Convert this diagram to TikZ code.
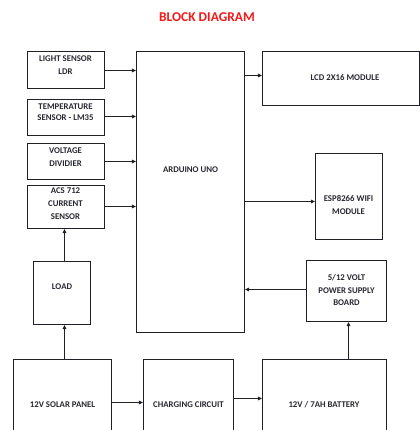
\documentclass[tikz,border=0pt]{standalone}
\usepackage{fontspec}
\setmainfont{Carlito}
\usetikzlibrary{arrows.meta}
\definecolor{titlered}{RGB}{245,25,25}
\definecolor{ink}{RGB}{40,40,50}
\begin{document}
\begin{tikzpicture}[x=1bp,y=-1bp,
  txt/.style={font=\fontsize{8.8}{12.3}\selectfont\bfseries,align=center,inner sep=0pt,text=ink},
  blk/.style={draw=ink!80!black,line width=1bp,rectangle,inner sep=0pt},
  conn/.style={draw=ink!80!black,line width=1bp,-{Triangle[length=4bp,width=3.6bp]}}]
\useasboundingbox (0,0) rectangle (420,430);
\clip (0,0) rectangle (420,430);
\fill[white] (0,0) rectangle (420,430);
\node[font=\fontsize{13.5}{15}\selectfont\bfseries,text=titlered] (title) at (207,17) {BLOCK DIAGRAM};
\node[blk,minimum width=77bp,minimum height=37bp] (light) at (66,70) {};
\node[txt] (lightlabel) at (65.5,65) {LIGHT SENSOR\\LDR};
\node[blk,minimum width=77bp,minimum height=36bp] (temp) at (66,117.5) {};
\node[txt,font=\fontsize{8.8}{10.5}\selectfont\bfseries] (templabel) at (65.5,112) {TEMPERATURE\\SENSOR - LM35};
\node[blk,minimum width=77bp,minimum height=36bp] (volt) at (66,161.5) {};
\node[txt] (voltlabel) at (65.5,157) {VOLTAGE\\DIVIDIER};
\node[blk,minimum width=77bp,minimum height=43bp] (acs) at (66,207) {};
\node[txt,font=\fontsize{8.8}{13}\selectfont\bfseries] (acslabel) at (65.5,204) {ACS 712\\CURRENT\\SENSOR};
\node[blk,minimum width=57bp,minimum height=63bp] (load) at (62,293) {};
\node[txt] (loadlabel) at (62,287) {LOAD};
\node[blk,minimum width=108bp,minimum height=281bp] (ard) at (190.5,192) {};
\node[txt] (ardlabel) at (190.5,170) {ARDUINO UNO};
\node[blk,minimum width=157bp,minimum height=54bp] (lcd) at (341,78.5) {};
\node[txt] (lcdlabel) at (345,78) {LCD 2X16 MODULE};
\node[blk,minimum width=67bp,minimum height=86bp] (esp) at (349,196.5) {};
\node[txt] (esplabel) at (348.5,205) {ESP8266 WIFI\\MODULE};
\node[blk,minimum width=80bp,minimum height=61bp] (psu) at (346.5,291) {};
\node[txt] (psulabel) at (346.5,290) {5/12 VOLT\\POWER SUPPLY\\BOARD};
\node[blk,minimum width=98bp,minimum height=92bp] (solar) at (62.5,405.5) {};
\node[txt] (solarlabel) at (62.5,405) {12V SOLAR PANEL};
\node[blk,minimum width=90bp,minimum height=92bp] (charge) at (188.5,405.5) {};
\node[txt] (chargelabel) at (188.5,404.5) {CHARGING CIRCUIT};
\node[blk,minimum width=124bp,minimum height=92bp] (batt) at (324.5,405.5) {};
\node[txt] (battlabel) at (324,404.5) {12V / 7AH BATTERY};
\draw[conn] ([yshift=-0.5bp]light.east) -- ([yshift=-0.5bp]light.east -| ard.west);
\draw[conn] ([yshift=1bp]temp.east) -- ([yshift=1bp]temp.east -| ard.west);
\draw[conn] (volt.east) -- (volt.east -| ard.west);
\draw[conn] ([yshift=0.5bp]acs.east) -- ([yshift=0.5bp]acs.east -| ard.west);
\draw[conn] ([yshift=3bp]lcd.west -| ard.east) -- ([yshift=3bp]lcd.west);
\draw[conn] ([yshift=-5bp]esp.west -| ard.east) -- ([yshift=-5bp]esp.west);
\draw[conn] ([yshift=1.5bp]psu.west) -- ([yshift=1.5bp]psu.west -| ard.east);
\draw[conn] ([xshift=2.5bp]load.north) -- ([xshift=2.5bp]load.north |- acs.south);
\draw[conn] ([xshift=2.5bp]load.south |- solar.north) -- ([xshift=2.5bp]load.south);
\draw[conn] ([yshift=3bp]solar.east) -- ([yshift=3bp]solar.east -| charge.west);
\draw[conn] ([yshift=7bp]charge.east) -- ([yshift=7bp]charge.east -| batt.west);
\draw[conn] ([xshift=2bp]psu.south |- batt.north) -- ([xshift=2bp]psu.south);
\end{tikzpicture}
\end{document}
